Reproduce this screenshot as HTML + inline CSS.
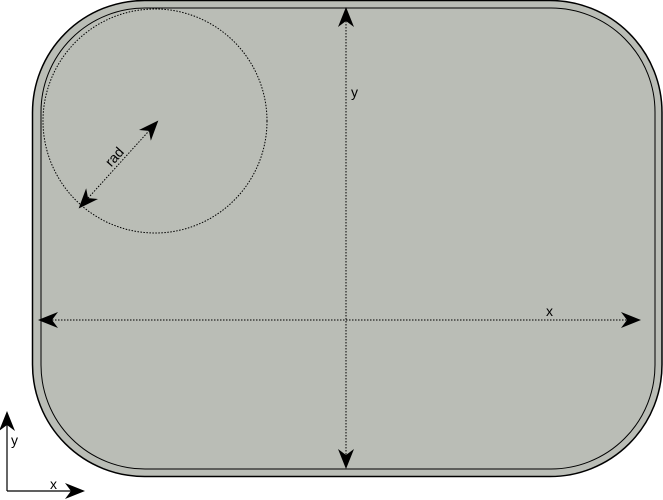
<!DOCTYPE html>
<html><head><meta charset="utf-8"><style>body{margin:0;background:#fff}svg{display:block}text{font-family:"Liberation Sans",sans-serif;font-size:14px;fill:#000}</style></head>
<body>
<svg width="663" height="500" viewBox="0 0 663 500">
<defs>
<marker id="ah" viewBox="0 0 10 10" refX="9" refY="5" markerWidth="20" markerHeight="20" orient="auto-start-reverse" markerUnits="userSpaceOnUse"><path d="M0,1 L10,5 L0,9 L3,5 Z" fill="#000"/></marker>
</defs>
<rect x="32.5" y="0.5" width="629.5" height="476" rx="112" ry="112" fill="#babdb6" stroke="#000" stroke-width="1.5"/>
<rect x="41" y="8" width="614" height="461" rx="104" ry="104" fill="none" stroke="#000" stroke-width="1"/>
<circle cx="155" cy="121" r="112" fill="none" stroke="#000" stroke-width="1" stroke-dasharray="1.5,1.5"/>
<line x1="80" y1="207" x2="157" y2="122" stroke="#000" stroke-dasharray="1.5,1.5" marker-start="url(#ah)" marker-end="url(#ah)"/>
<text x="118" y="160" transform="rotate(-48 118 160)" text-anchor="middle">rad</text>
<line x1="346" y1="9" x2="346" y2="467" stroke="#000" stroke-dasharray="1.5,1.5" marker-start="url(#ah)" marker-end="url(#ah)"/>
<text x="351" y="97">y</text>
<line x1="40" y1="320" x2="639" y2="320" stroke="#000" stroke-dasharray="1.5,1.5" marker-start="url(#ah)" marker-end="url(#ah)"/>
<text x="546" y="316">x</text>
<line x1="7" y1="491" x2="7" y2="413" stroke="#000" stroke-width="1.2" marker-end="url(#ah)"/>
<line x1="7" y1="491" x2="83" y2="491" stroke="#000" stroke-width="1.2" marker-end="url(#ah)"/>
<text x="11" y="445">y</text>
<text x="50" y="489">x</text>
</svg>
</body></html>
